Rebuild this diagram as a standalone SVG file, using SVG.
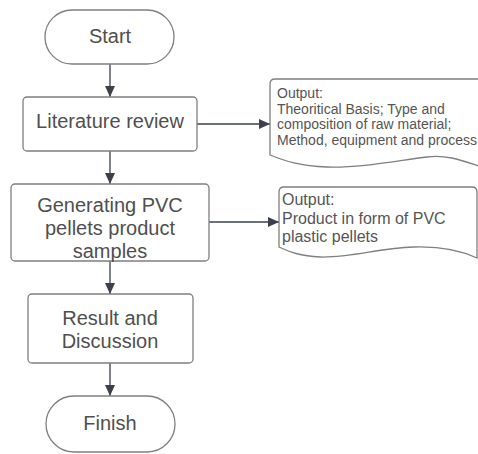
<svg xmlns="http://www.w3.org/2000/svg" width="478" height="454" viewBox="0 0 478 454">
  <defs>
    <marker id="arrow" markerUnits="userSpaceOnUse" markerWidth="12" markerHeight="12" viewBox="0 0 12 12" refX="11" refY="6" orient="auto">
      <path d="M0,1 L11,6 L0,11 Z" fill="#3b404a"/>
    </marker>
    <style>
      .shape { fill: #ffffff; stroke: #7f7f7f; stroke-width: 1.3; }
      .label { font-family: "Liberation Sans", Arial, sans-serif; font-size: 20px; fill: #4f4f4f; text-anchor: middle; }
      .note { font-family: "Liberation Sans", Arial, sans-serif; fill: #555555; }
      .edge { stroke: #3b404a; stroke-width: 1.3; fill: none; marker-end: url(#arrow); }
    </style>
  </defs>
  <rect width="478" height="454" fill="#ffffff"/>

  <g id="edges">
    <line class="edge" x1="110" y1="64" x2="110" y2="97"/>
    <line class="edge" x1="110" y1="151" x2="110" y2="184"/>
    <line class="edge" x1="110" y1="261" x2="110" y2="294"/>
    <line class="edge" x1="110" y1="363" x2="110" y2="396"/>
    <line class="edge" x1="197" y1="124" x2="270" y2="124"/>
    <line class="edge" x1="209" y1="222" x2="279" y2="222"/>
  </g>

  <g id="start">
    <rect class="shape" x="45" y="10" width="129" height="54" rx="27" ry="27"/>
    <text class="label" x="110" y="43">Start</text>
  </g>

  <g id="literature-review">
    <rect class="shape" x="23" y="97" width="174" height="54" rx="4"/>
    <text class="label" x="110" y="128">Literature review</text>
  </g>

  <g id="generating-samples">
    <rect class="shape" x="11" y="184" width="198" height="77" rx="4"/>
    <text class="label" x="110" y="212">Generating PVC</text>
    <text class="label" x="110" y="235">pellets product</text>
    <text class="label" x="110" y="258">samples</text>
  </g>

  <g id="result-discussion">
    <rect class="shape" x="28" y="294" width="165" height="69" rx="4"/>
    <text class="label" x="110" y="325">Result and</text>
    <text class="label" x="110" y="348">Discussion</text>
  </g>

  <g id="finish">
    <rect class="shape" x="46" y="396" width="129" height="56" rx="28" ry="28"/>
    <text class="label" x="110" y="430">Finish</text>
  </g>

  <g id="output-literature">
    <path class="shape" d="M270,155 V84 Q270,79 275,79 H482 V167 C466,162 448,154 427,157 C395,161 360,168 327,167 C300,166 285,161 270,155 Z"/>
    <text class="note" font-size="14" x="277" y="98">Output:</text>
    <text class="note" font-size="14" x="277" y="114">Theoritical Basis; Type and</text>
    <text class="note" font-size="14" x="277" y="129">composition of raw material;</text>
    <text class="note" font-size="14" x="277" y="144.5">Method, equipment and process</text>
  </g>

  <g id="output-samples">
    <path class="shape" d="M279,247 V192 Q279,187 284,187 H472 Q477,187 477,192 V258 C462,251 440,246 413,247 C380,248 350,258 320,257 C300,256 290,252 279,247 Z"/>
    <text class="note" font-size="16" x="282" y="205">Output:</text>
    <text class="note" font-size="16" x="282" y="224">Product in form of PVC</text>
    <text class="note" font-size="16" x="282" y="242">plastic pellets</text>
  </g>
</svg>
